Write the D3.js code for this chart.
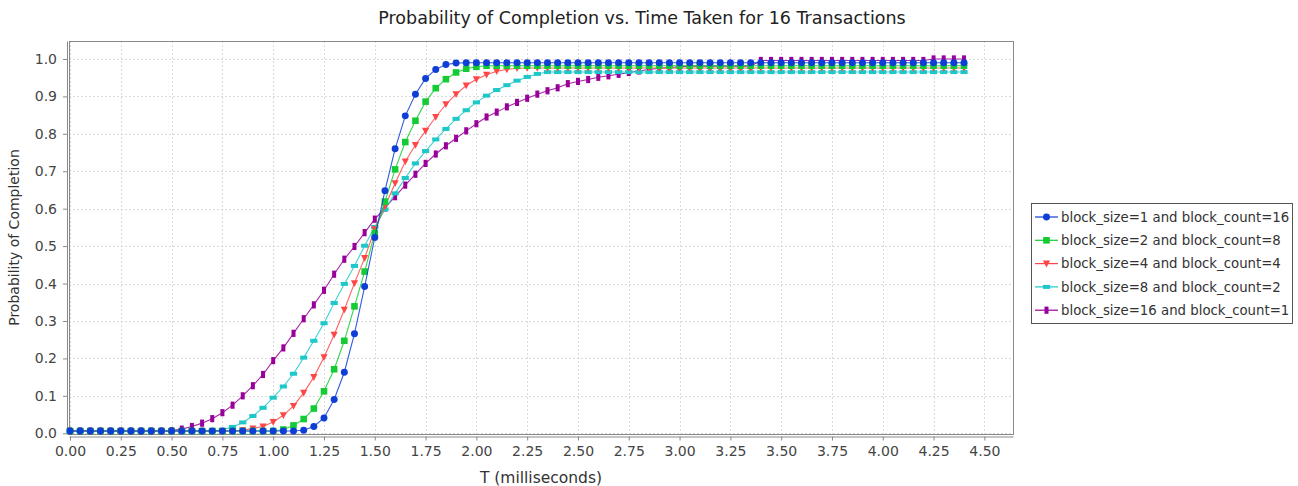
<!DOCTYPE html>
<html>
<head>
<meta charset="utf-8">
<script src="https://cdn.jsdelivr.net/npm/d3@7"></script>
<style>
  body { margin: 0; background: #fff; }
  text { font-family: "DejaVu Sans", sans-serif; fill: #444; }
</style>
</head>
<body>
<svg id="chart" width="1298" height="486"></svg>
<script>
// T (milliseconds) sample points
const timeMs = [
  0.00, 0.05, 0.10, 0.15, 0.20, 0.25, 0.30, 0.35, 0.40, 0.45,
  0.50, 0.55, 0.60, 0.65, 0.70, 0.75, 0.80, 0.85, 0.90, 0.95,
  1.00, 1.05, 1.10, 1.15, 1.20, 1.25, 1.30, 1.35, 1.40, 1.45,
  1.50, 1.55, 1.60, 1.65, 1.70, 1.75, 1.80, 1.85, 1.90, 1.95,
  2.00, 2.05, 2.10, 2.15, 2.20, 2.25, 2.30, 2.35, 2.40, 2.45,
  2.50, 2.55, 2.60, 2.65, 2.70, 2.75, 2.80, 2.85, 2.90, 2.95,
  3.00, 3.05, 3.10, 3.15, 3.20, 3.25, 3.30, 3.35, 3.40, 3.45,
  3.50, 3.55, 3.60, 3.65, 3.70, 3.75, 3.80, 3.85, 3.90, 3.95,
  4.00, 4.05, 4.10, 4.15, 4.20, 4.25, 4.30, 4.35, 4.40
];

const size1count16 = [
  0.006, 0.006, 0.006, 0.006, 0.006, 0.006, 0.006, 0.006, 0.006, 0.006,
  0.006, 0.006, 0.006, 0.006, 0.006, 0.006, 0.006, 0.006, 0.006, 0.006,
  0.006, 0.006, 0.006, 0.008, 0.018, 0.041, 0.090, 0.163, 0.266, 0.392,
  0.523, 0.648, 0.760, 0.848, 0.906, 0.948, 0.972, 0.985, 0.989, 0.990,
  0.990, 0.990, 0.990, 0.990, 0.990, 0.990, 0.990, 0.990, 0.990, 0.990,
  0.990, 0.990, 0.990, 0.990, 0.990, 0.990, 0.990, 0.990, 0.990, 0.990,
  0.990, 0.990, 0.990, 0.990, 0.990, 0.990, 0.990, 0.990, 0.990, 0.990,
  0.990, 0.990, 0.990, 0.990, 0.990, 0.990, 0.990, 0.990, 0.990, 0.990,
  0.990, 0.990, 0.990, 0.990, 0.990, 0.990, 0.990, 0.990, 0.990
];

const size2count8 = [
  0.006, 0.006, 0.006, 0.006, 0.006, 0.006, 0.006, 0.006, 0.006, 0.006,
  0.006, 0.006, 0.006, 0.006, 0.006, 0.006, 0.006, 0.006, 0.006, 0.006,
  0.006, 0.010, 0.021, 0.038, 0.066, 0.112, 0.171, 0.247, 0.339, 0.432,
  0.535, 0.619, 0.705, 0.778, 0.835, 0.886, 0.922, 0.946, 0.964, 0.974,
  0.979, 0.982, 0.982, 0.982, 0.982, 0.982, 0.982, 0.982, 0.982, 0.982,
  0.982, 0.982, 0.982, 0.982, 0.982, 0.982, 0.982, 0.982, 0.982, 0.982,
  0.982, 0.982, 0.982, 0.982, 0.982, 0.982, 0.982, 0.982, 0.982, 0.982,
  0.982, 0.982, 0.982, 0.982, 0.982, 0.982, 0.982, 0.982, 0.982, 0.982,
  0.982, 0.982, 0.982, 0.982, 0.982, 0.982, 0.982, 0.982, 0.982
];

const size4count4 = [
  0.006, 0.006, 0.006, 0.006, 0.006, 0.006, 0.006, 0.006, 0.006, 0.006,
  0.006, 0.006, 0.006, 0.006, 0.006, 0.006, 0.006, 0.008, 0.013, 0.018,
  0.030, 0.048, 0.073, 0.108, 0.150, 0.203, 0.263, 0.330, 0.401, 0.468,
  0.545, 0.606, 0.668, 0.726, 0.770, 0.808, 0.845, 0.879, 0.906, 0.929,
  0.946, 0.958, 0.967, 0.972, 0.975, 0.976, 0.976, 0.976, 0.976, 0.976,
  0.976, 0.976, 0.976, 0.976, 0.976, 0.976, 0.976, 0.976, 0.976, 0.976,
  0.976, 0.976, 0.976, 0.976, 0.976, 0.976, 0.976, 0.976, 0.976, 0.976,
  0.976, 0.976, 0.976, 0.976, 0.976, 0.976, 0.976, 0.976, 0.976, 0.976,
  0.976, 0.976, 0.976, 0.976, 0.976, 0.976, 0.976, 0.976, 0.976
];

const size8count2 = [
  0.006, 0.006, 0.006, 0.006, 0.006, 0.006, 0.006, 0.006, 0.006, 0.006,
  0.006, 0.006, 0.006, 0.006, 0.006, 0.009, 0.017, 0.029, 0.046, 0.068,
  0.095, 0.125, 0.159, 0.202, 0.247, 0.294, 0.348, 0.399, 0.447, 0.501,
  0.551, 0.598, 0.641, 0.682, 0.721, 0.754, 0.785, 0.813, 0.840, 0.863,
  0.884, 0.902, 0.917, 0.930, 0.942, 0.952, 0.960, 0.965, 0.965, 0.965,
  0.965, 0.965, 0.965, 0.965, 0.965, 0.965, 0.965, 0.965, 0.965, 0.965,
  0.965, 0.965, 0.965, 0.965, 0.965, 0.965, 0.965, 0.965, 0.965, 0.965,
  0.965, 0.965, 0.965, 0.965, 0.965, 0.965, 0.965, 0.965, 0.965, 0.965,
  0.965, 0.965, 0.965, 0.965, 0.965, 0.965, 0.965, 0.965, 0.965
];

const size16count1 = [
  0.006, 0.006, 0.006, 0.006, 0.006, 0.006, 0.006, 0.006, 0.006, 0.006,
  0.007, 0.011, 0.018, 0.027, 0.039, 0.055, 0.075, 0.100, 0.127, 0.157,
  0.194, 0.228, 0.267, 0.306, 0.343, 0.382, 0.425, 0.465, 0.499, 0.536,
  0.572, 0.602, 0.632, 0.663, 0.692, 0.721, 0.746, 0.768, 0.788, 0.808,
  0.827, 0.845, 0.858, 0.872, 0.884, 0.895, 0.906, 0.915, 0.923, 0.934,
  0.940, 0.945, 0.951, 0.955, 0.959, 0.964, 0.968, 0.972, 0.975, 0.977,
  0.979, 0.981, 0.981, 0.981, 0.981, 0.981, 0.981, 0.981, 0.996, 0.996,
  0.996, 0.996, 0.996, 0.996, 0.996, 0.996, 0.996, 0.996, 0.996, 0.996,
  0.996, 0.996, 0.996, 0.996, 0.996, 1.000, 1.000, 1.000, 1.000
];

const seriesNames = [
  "block_size=1 and block_count=16",
  "block_size=2 and block_count=8",
  "block_size=4 and block_count=4",
  "block_size=8 and block_count=2",
  "block_size=16 and block_count=1"
];
const seriesValues = [size1count16, size2count8, size4count4, size8count2, size16count1];
const seriesColors = ["#0f3ed6", "#13cc33", "#ff4646", "#1ec8c8", "#990099"];
const seriesShapes = ["circle", "square", "triangleDown", "hRect", "vRect"];

const xTicks = [0, 0.25, 0.5, 0.75, 1, 1.25, 1.5, 1.75, 2, 2.25, 2.5, 2.75, 3, 3.25, 3.5, 3.75, 4, 4.25, 4.5];
const yTicks = [0, 0.1, 0.2, 0.3, 0.4, 0.5, 0.6, 0.7, 0.8, 0.9, 1.0];

const W = 1298, H = 486;
const plot = {left: 69, right: 1013, top: 41, bottom: 434};

const x = d3.scaleLinear().domain([-0.005, 4.641]).range([plot.left, plot.right]);
const y = d3.scaleLinear().domain([-0.002, 1.048]).range([plot.bottom, plot.top]);

const svg = d3.select("#chart");
svg.append("rect").attr("width", W).attr("height", H).attr("fill", "#fff");

// title
svg.append("text")
   .attr("x", 642).attr("y", 24)
   .attr("text-anchor", "middle")
   .style("font-size", "17.5px").style("fill", "#222")
   .text("Probability of Completion vs. Time Taken for 16 Transactions");

// grid
const grid = svg.append("g");
grid.selectAll(".vg").data(xTicks).enter().append("line")
   .attr("x1", d => Math.round(x(d)) + 0.5).attr("x2", d => Math.round(x(d)) + 0.5)
   .attr("y1", plot.top).attr("y2", plot.bottom)
   .attr("stroke", "#dadada").attr("stroke-dasharray", "2,2");
grid.selectAll(".hg").data(yTicks).enter().append("line")
   .attr("y1", d => Math.round(y(d)) + 0.5).attr("y2", d => Math.round(y(d)) + 0.5)
   .attr("x1", plot.left).attr("x2", plot.right)
   .attr("stroke", "#dadada").attr("stroke-dasharray", "2,2");

// frame
svg.append("rect")
   .attr("x", plot.left + 0.5).attr("y", plot.top + 0.5)
   .attr("width", plot.right - plot.left).attr("height", plot.bottom - plot.top)
   .attr("fill", "none").attr("stroke", "#8a8a8a");

// axes
const xAxis = d3.axisBottom(x).tickValues(xTicks).tickFormat(d3.format(".2f"))
   .tickSizeInner(4).tickSizeOuter(0).tickPadding(6);
const gx = svg.append("g").attr("transform", `translate(0,${plot.bottom + 2.5})`).call(xAxis);
gx.select(".domain").attr("stroke", "#8a8a8a");
gx.selectAll(".tick line").attr("stroke", "#8a8a8a");
gx.selectAll(".tick text").style("font-size", "14px").style("fill", "#444")
   .style("font-family", "DejaVu Sans, sans-serif");

const yAxis = d3.axisLeft(y).tickValues(yTicks).tickFormat(d3.format(".1f"))
   .tickSizeInner(4).tickSizeOuter(0).tickPadding(6);
const gy = svg.append("g").attr("transform", `translate(${plot.left - 2},0)`).call(yAxis);
gy.select(".domain").attr("stroke", "#8a8a8a");
gy.selectAll(".tick line").attr("stroke", "#8a8a8a");
gy.selectAll(".tick text").style("font-size", "14px").style("fill", "#444")
   .style("font-family", "DejaVu Sans, sans-serif");

// axis labels
svg.append("text")
   .attr("x", (plot.left + plot.right) / 2).attr("y", 483)
   .attr("text-anchor", "middle").style("font-size", "15.5px").style("fill", "#333")
   .text("T (milliseconds)");
svg.append("text")
   .attr("transform", `translate(19,${(plot.top + plot.bottom) / 2}) rotate(-90)`)
   .attr("text-anchor", "middle").style("font-size", "14px").style("fill", "#333")
   .text("Probability of Completion");

// marker shapes
function markerPath(shape) {
  switch (shape) {
    case "circle": return d3.symbol(d3.symbolCircle, 38)();
    case "square": return "M-3.3,-3.3h6.6v6.6h-6.6Z";
    case "triangleDown": return "M-3.6,-3h7.2L0,3.8Z";
    case "hRect": return "M-3.6,-2h7.2v4h-7.2Z";
    case "vRect": return "M-2,-3.6h4v7.2h-4Z";
  }
}

const line = d3.line().x(d => x(d[0])).y(d => y(d[1]));
const dataArea = svg.append("g");

// series 0 drawn last (on top)
for (let s = seriesValues.length - 1; s >= 0; s--) {
  const pts = timeMs.map((t, i) => [t, seriesValues[s][i]]);
  const g = dataArea.append("g");
  g.append("path").datum(pts)
   .attr("d", line).attr("fill", "none")
   .attr("stroke", seriesColors[s]).attr("stroke-width", 1.1).attr("stroke-opacity", 0.85);
  g.selectAll("path.m").data(pts).enter().append("path")
   .attr("class", "m")
   .attr("d", markerPath(seriesShapes[s]))
   .attr("transform", d => `translate(${x(d[0])},${y(d[1])})`)
   .attr("fill", seriesColors[s]);
}

// legend
const legend = svg.append("g");
const lgX = 1031, lgY = 203, rowH = 23.3;
legend.append("rect")
   .attr("x", lgX + 0.5).attr("y", lgY + 0.5)
   .attr("width", 261).attr("height", 120)
   .attr("fill", "#fff").attr("stroke", "#555");
seriesNames.forEach((name, s) => {
  const cy = lgY + 14 + s * rowH;
  legend.append("line")
     .attr("x1", lgX + 4).attr("x2", lgX + 27).attr("y1", cy).attr("y2", cy)
     .attr("stroke", seriesColors[s]).attr("stroke-width", 1.2);
  legend.append("path")
     .attr("d", markerPath(seriesShapes[s]))
     .attr("transform", `translate(${lgX + 15.5},${cy})`)
     .attr("fill", seriesColors[s]);
  legend.append("text")
     .attr("x", lgX + 30).attr("y", cy + 4.7)
     .style("font-size", "13.3px").style("fill", "#333")
     .text(name);
});
</script>
</body>
</html>
